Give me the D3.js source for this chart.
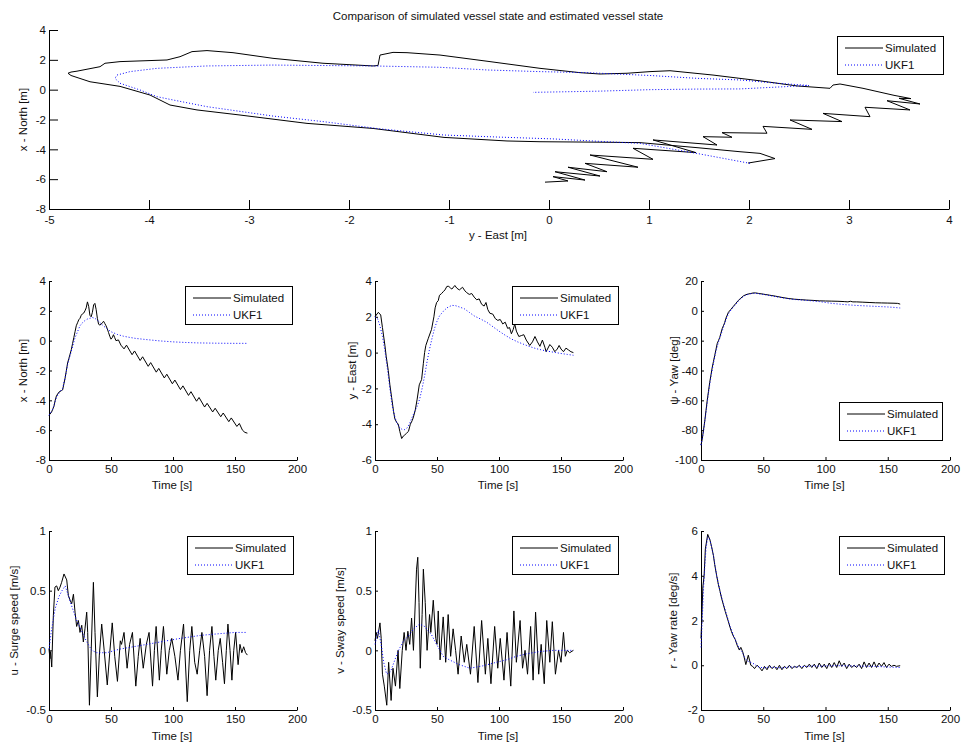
<!DOCTYPE html>
<html><head><meta charset="utf-8">
<script src="https://cdn.jsdelivr.net/npm/d3@7"></script>
<style>
body{margin:0;background:#fff}
text{font-family:"Liberation Sans",Arial,Helvetica,sans-serif;fill:#111}
</style>
</head><body>
<svg id="c" width="961" height="746"></svg>
<script>
// ---------------- DATA ----------------
const titleText = "Comparison of simulated vessel state and estimated vessel state";
const seriesNames = ["Simulated", "UKF1"];
const timeTicks = [0, 50, 100, 150, 200];

// Trajectory (East, North) – simulated
const trackSim = [
[1.99,-4.92],[2.26,-4.62],[2.11,-4.27],[1.91,-4.16],[1.5,-3.9],[0.91,-3.55],[0.5,-3.52],[-0.09,-3.49],[-0.42,-3.44],[-1.05,-3.2],[-1.76,-2.6],[-2.42,-2.26],[-3.09,-1.70],[-3.52,-1.36],[-3.79,-1.03],[-3.99,-0.36],[-4.29,0.22],[-4.59,0.53],[-4.78,0.95],[-4.81,1.10],[-4.78,1.18],[-4.72,1.24],[-4.49,1.54],[-4.44,1.77],[-4.29,1.88],[-3.82,1.99],[-3.69,2.21],[-3.57,2.55],[-3.42,2.62],[-3.16,2.48],[-2.76,2.10],[-2.26,1.77],[-1.76,1.59],[-1.71,1.62],[-1.69,2.32],[-1.56,2.50],[-1.42,2.48],[-1.09,2.32],[-0.59,1.88],[-0.09,1.43],[0.31,1.14],[0.51,1.05],[0.78,1.10],[1.01,1.21],[1.21,1.27],[1.64,0.98],[2.1,0.6],[2.48,0.25],[2.81,0.09],[2.84,0.31],[2.91,0.38],[3.14,0.09],[3.45,-0.38],[3.62,-0.6],[3.5,-0.58],[3.71,-0.96],
[3.38,-0.74],[3.61,-1.36],[3.16,-1.18],[3.21,-1.81],[2.74,-1.59],[2.93,-2.14],[2.41,-2.03],[2.63,-2.66],[2.14,-2.46],[2.18,-2.92],[1.73,-2.88],[1.83,-3.19],[1.54,-3.15],[1.68,-3.71],[1.04,-3.37],[1.47,-4.22],[0.84,-3.93],[1.04,-4.67],[0.41,-4.38],[0.89,-5.20],[0.36,-4.94],[0.58,-5.50],[0.19,-5.20],[0.51,-5.79],[0.06,-5.50],[0.36,-6.06],[0.04,-5.83],[0.19,-6.12],[-0.04,-6.2]
];
// Trajectory (East, North) – UKF1
const trackUkf = [
[2.01,-4.94],[1.5,-4.3],[0.91,-3.6],[0.58,-3.49],[0.04,-3.3],[-0.5,-3.18],[-1.05,-3.04],[-1.7,-2.62],[-2.26,-2.14],[-2.76,-1.77],[-3.42,-1.14],[-3.76,-0.69],[-3.92,-0.47],[-4.09,-0.02],[-4.29,0.43],[-4.34,0.76],[-4.32,0.98],[-4.19,1.21],[-3.92,1.43],[-3.42,1.59],[-2.76,1.65],[-2.29,1.62],[-1.76,1.59],[-1.09,1.50],[-0.62,1.32],[-0.09,1.21],[0.38,1.14],[1.01,0.95],[1.48,0.76],[1.91,0.65],[2.3,0.42],[2.54,0.31],[2.6,0.28],[2.51,0.25],[1.91,0.05],[1.48,0.04],[1.01,0.0],[0.5,-0.1],[-0.16,-0.18]
];

// x - North [m] vs time
const northSim = [
[0,-5.0],[2,-4.8],[3,-4.6],[4,-4.4],[5,-4.0],[6,-3.7],[8,-3.45],[10,-3.35],[11,-3.3],[12,-2.9],[13,-2.5],[14,-2.0],[15,-1.5],[16,-1.2],[17,-0.9],[18,-0.6],[19,-0.2],[20,0.2],[21,0.6],[22,1.0],[23,1.2],[24,1.4],[25,1.5],[26,1.7],[27,1.8],[28,1.85],[29,2.0],[30,2.2],[31,2.6],[32,2.3],[33,1.7],[34,1.6],[35,1.9],[36,2.4],[37,2.5],[38,2.1],[39,1.5],[40,1.1],[41,1.05],[42,1.1],[43,1.2],[44,1.3],[45,1.15],[46,1.0],[47,0.8],[48,0.55],[49,0.3],[50,0.1],[51,0.2],[52,0.4],[53,0.2],[54,0.0],[56,0.05],[58,-0.3],[60.5,-0.55],[62.5,-0.3],[67,-0.94],[69,-0.69],[73.5,-1.33],[75.5,-1.08],[80,-1.72],[82,-1.47],[86.5,-2.11],[88.5,-1.86],[93,-2.5],[95,-2.25],[99.5,-2.89],[101.5,-2.64],[106,-3.28],[108,-3.03],[112.5,-3.67],[114.5,-3.42],[119,-4.06],[121,-3.81],[125.5,-4.45],[127.5,-4.2],[132,-4.78],[134,-4.53],[138.5,-5.1],[140.5,-4.85],[145,-5.43],[147,-5.18],[151.5,-5.75],[153.5,-5.55],[156,-6.0],[158,-6.15],[160,-6.2]
];
const northUkf = [
[0,-5.0],[3,-4.6],[6,-3.8],[9,-3.4],[11,-3.2],[13,-2.5],[15,-1.6],[17,-1.0],[19,-0.4],[21,0.2],[23,0.6],[25,1.0],[27,1.2],[29,1.35],[31,1.45],[33,1.5],[35,1.55],[37,1.5],[40,1.3],[43,1.05],[46,0.85],[50,0.6],[55,0.42],[60,0.3],[65,0.22],[70,0.15],[80,0.06],[90,-0.02],[100,-0.08],[110,-0.12],[120,-0.15],[135,-0.17],[150,-0.18],[160,-0.18]
];

// y - East [m] vs time
const eastSim = [
[0,2.0],[1,2.1],[2.7,2.25],[4.6,2.1],[6,1.4],[8,0.4],[9,-0.2],[10.7,-1.0],[12,-1.8],[13.4,-2.5],[15,-3.3],[16,-3.7],[17.5,-3.9],[18.8,-4.0],[20,-4.4],[21.5,-4.8],[23,-4.65],[24,-4.6],[25.5,-4.5],[27,-4.4],[28.5,-4.0],[30,-3.8],[31,-3.6],[32.5,-3.2],[34,-2.6],[35.7,-1.8],[37.6,-1.5],[39,-0.6],[40,0.0],[41,0.4],[43,0.8],[45.6,1.3],[47.5,2.0],[48.5,2.5],[49.7,2.8],[51,2.9],[52,3.2],[53.7,3.3],[55,3.4],[56.4,3.5],[58,3.7],[59.5,3.7],[61,3.6],[62,3.55],[64.4,3.75],[66,3.6],[68,3.5],[70.6,3.65],[72.5,3.45],[74,3.35],[76,3.25],[78,3.3],[80,3.1],[82,2.95],[84,3.0],[86,2.7],[88,2.6],[89.5,2.8],[91,2.4],[92.6,2.2],[95,2.15],[97,1.9],[99,1.8],[101,1.85],[103,1.6],[105,1.7],[107,1.35],[108.5,1.4],[110,1.05],[111.5,1.3],[112.7,1.6],[114,1.2],[116,0.9],[118,0.95],[120,1.0],[122,0.7],[124.8,0.4],[127,0.6],[129,0.9],[131,0.6],[133,0.35],[135,0.7],[137,0.3],[138,0.05],[141,0.45],[143,0.3],[145,0.05],[147,0.2],[148.5,0.4],[150,0.2],[152,0.05],[154,0.25],[156,0.15],[158,0.05],[160,0.0]
];
const eastUkf = [
[0,2.0],[2,1.9],[4,1.5],[6,0.9],[8,0.1],[10,-0.9],[12,-2.0],[14,-3.0],[16,-3.6],[18,-4.0],[20,-4.2],[22,-4.3],[24,-4.3],[26,-4.2],[28,-3.95],[30,-3.6],[32,-3.3],[34,-3.0],[36,-2.6],[38,-2.0],[40,-1.3],[42,-0.5],[44,0.2],[46,0.8],[48,1.35],[50,1.75],[52,2.05],[55,2.3],[58,2.5],[62,2.64],[65,2.62],[68,2.55],[72,2.45],[76,2.25],[80,2.05],[85,1.88],[90,1.7],[95,1.45],[100,1.2],[105,0.97],[110,0.76],[115,0.6],[120,0.46],[125,0.33],[130,0.22],[135,0.14],[140,0.07],[145,0.01],[150,-0.05],[155,-0.1],[160,-0.15]
];

// psi - Yaw [deg] vs time
const yawSim = [
[0,-90],[1,-86],[2,-80],[3,-74],[4,-67],[5,-60],[6,-54],[7,-48],[8,-43],[9,-38],[10,-34],[11,-30],[12,-26],[13,-22],[14,-20],[15,-18],[16,-15],[17,-12],[18,-10],[19,-8],[20,-5],[21,-3],[22,-1],[24,1],[26,3],[28,5],[30,7],[32,8.5],[34,10],[36,10.8],[38,11.3],[40,11.6],[42,12],[44,12],[46,11.7],[50,11.2],[55,10.5],[60,9.8],[65,9],[70,8.3],[75,7.8],[80,7.5],[85,7.2],[90,7.0],[95,6.7],[100,6.6],[105,6.5],[110,6.4],[115,6.2],[118,6.0],[120,6.4],[122,6.0],[125,6.0],[130,5.8],[135,5.6],[140,5.4],[145,5.3],[150,5.2],[155,5.1],[158,5.0],[160,4.5]
];
const yawUkf = [
[0,-90],[2,-81],[4,-68],[6,-55],[8,-44],[10,-35],[12,-27],[14,-21],[16,-16],[18,-11],[20,-6],[22,-2],[24,0.5],[26,2.5],[28,4.5],[30,6.5],[32,8.2],[34,9.6],[36,10.5],[38,11.1],[40,11.5],[42,11.7],[45,11.6],[50,11],[55,10.3],[60,9.5],[65,8.8],[70,8.1],[75,7.6],[80,7.3],[85,7.0],[90,6.6],[95,6.2],[100,5.6],[105,5.0],[110,4.6],[115,4.2],[120,3.9],[125,3.6],[130,3.4],[135,3.2],[140,3.0],[145,2.8],[150,2.6],[155,2.3],[160,1.9]
];

// u - Surge speed [m/s] vs time
const surgeSim = [
[0,0.01],[0.8,-0.07],[1.3,-0.01],[2.2,-0.14],[3.5,0.29],[4.8,0.53],[6.2,0.54],[7.5,0.5],[8.9,0.53],[10.2,0.57],[12.1,0.64],[14.3,0.59],[15.6,0.46],[17,0.42],[18.3,0.39],[19.7,0.47],[21,0.32],[22.3,0.2],[23.7,0.25],[25,0.15],[26.4,0.21],[27.7,0.07],[29,0.18],[30.4,0.32],[31.2,0.15],[32.6,-0.46],[33.9,-0.04],[35.8,0.57],[37.1,0.15],[39,-0.39],[40.6,-0.04],[42.5,0.22],[44.5,0.0],[47,-0.29],[49,-0.02],[51,0.23],[53,-0.05],[55.2,-0.26],[57.5,0.08],[58.5,0.05],[60.5,0.15],[63,-0.15],[65,0.05],[67.3,0.15],[70,-0.3],[72,-0.05],[73.5,0.1],[76,-0.15],[78.5,0.05],[80.7,0.15],[83.5,-0.3],[85,0.0],[86.4,0.2],[89,-0.25],[90.5,0.0],[92.3,0.2],[95,-0.2],[97,0.0],[99,0.1],[101.5,-0.05],[104,-0.25],[106,0.0],[108.5,0.22],[111.5,-0.43],[113.5,0.0],[115.2,0.2],[117.5,-0.1],[119.5,-0.2],[121.5,0.0],[123.3,0.15],[125.5,-0.05],[127.5,-0.38],[129.5,0.0],[131.4,0.2],[133,-0.05],[134.5,-0.25],[136.5,0.0],[138.1,0.1],[140,-0.1],[141.5,-0.28],[143,0.0],[144.3,0.22],[146,0.0],[147.5,-0.25],[149,0.0],[150.5,0.15],[152.5,-0.12],[154,0.05],[155.5,-0.02],[157,0.03],[158.5,-0.02],[160,-0.04]
];
const surgeUkf = [
[0,0.01],[2,0.17],[5,0.35],[8,0.45],[10.5,0.5],[13,0.54],[15.6,0.46],[18,0.38],[22,0.26],[26,0.17],[30,0.08],[34.5,0.0],[38.5,-0.02],[46.6,-0.02],[57,0.01],[73.5,0.04],[89.6,0.07],[105.8,0.1],[122,0.125],[138,0.14],[150,0.15],[160,0.15]
];

// v - Sway speed [m/s] vs time
const swaySim = [
[0,0.08],[1,0.15],[2,0.1],[4,0.23],[5,0.1],[6,-0.2],[7.5,-0.3],[9.5,-0.46],[11,-0.1],[13,-0.42],[14.5,-0.15],[16.5,-0.3],[18.6,0.0],[20,-0.32],[22,0.0],[23.5,0.15],[25,0.0],[26.5,0.16],[28,0.05],[29.5,0.27],[31,0.0],[33.5,0.68],[34.5,0.78],[35.5,0.4],[36.5,-0.15],[38,0.3],[39,0.68],[40.5,0.4],[42,0.0],[44,0.3],[45,0.15],[47,0.42],[49,0.1],[50,0.05],[51,0.33],[52.5,-0.08],[55,0.28],[57,-0.1],[59,0.3],[61,-0.05],[63,0.18],[65,0.0],[67,-0.2],[69.5,0.12],[72,-0.1],[74,0.05],[77,-0.2],[80,0.2],[83,-0.27],[86,0.25],[89,-0.2],[91,0.1],[93.5,-0.28],[96.5,0.2],[99,-0.15],[101,0.1],[104,-0.25],[106.5,0.15],[109.5,-0.3],[112,0.33],[114,-0.1],[117,0.25],[119,-0.15],[121,0.0],[123,-0.2],[125.5,0.2],[127.5,-0.25],[129.5,0.32],[132,-0.2],[134,0.05],[136.5,-0.28],[138.5,0.25],[141,-0.1],[143,0.24],[145.5,-0.2],[148,0.0],[150,-0.1],[152,0.15],[153.5,-0.05],[155,0.0],[157,-0.02],[160,0.0]
];
const swayUkf = [
[0,0.05],[2.7,0.17],[5,0.05],[7,-0.1],[9.4,-0.2],[12.5,-0.18],[16,-0.08],[19,0.0],[23,0.08],[27,0.12],[31,0.18],[36,0.22],[40,0.2],[45.6,0.13],[49.7,0.05],[55,-0.05],[60,-0.08],[68,-0.12],[76.5,-0.15],[87,-0.13],[98,-0.1],[106,-0.08],[114,-0.05],[122,-0.03],[133,-0.01],[144,0.0],[160,0.0]
];

// r - Yaw rate [deg/s] vs time
const rateSim = [
[0,1.2],[0.5,1.9],[1.5,3.5],[2.5,4.0],[3.5,5.2],[5.4,5.85],[7.2,5.6],[8.5,5.3],[10,4.9],[11,4.5],[12.6,4.0],[14,3.6],[15.3,3.3],[16.5,3.0],[18,2.7],[19.5,2.4],[20.6,2.2],[22,1.95],[23.3,1.7],[24.5,1.5],[26,1.3],[27.5,1.15],[29,0.9],[30.8,0.68],[32,0.8],[33.5,0.6],[34.5,0.4],[36,0.03],[38,0.45],[40,0.0],[41.5,-0.05],[43,-0.15],[45,0.0],[47,-0.1],[49,-0.25],[51,-0.05],[53,-0.2],[55,0.0],[57,-0.15],[59,-0.05],[61,-0.2],[63,0.0],[65,-0.2],[67,-0.05],[69,-0.15],[71,0.0],[73,-0.15],[75,-0.05],[77,-0.1],[79,0.0],[81,-0.15],[83,0.0],[85,-0.1],[87,0.05],[89,-0.1],[91,0.05],[93,-0.15],[95,0.1],[97,-0.1],[99,0.05],[101,-0.15],[103,0.1],[105,-0.1],[107,0.12],[109,-0.1],[111,0.2],[113,-0.05],[115,0.1],[117,-0.15],[119,0.05],[121,-0.1],[123,0.0],[125,-0.1],[127,0.05],[129,-0.15],[131,0.15],[133,-0.1],[135,0.1],[137,-0.1],[139,0.15],[141,-0.1],[143,0.1],[145,-0.05],[147,0.12],[149,-0.1],[151,0.05],[153,-0.05],[155,0.0],[157,-0.05],[160,-0.02]
];
const rateUkf = [
[0,0.8],[1,2.0],[2,3.4],[3,4.4],[4,5.2],[5.4,5.75],[7.2,5.6],[10,4.9],[12.6,4.0],[15.3,3.3],[18,2.75],[20.6,2.25],[23.3,1.75],[26,1.35],[29,0.95],[31,0.75],[33,0.6],[35,0.35],[37,0.2],[39,0.15],[41,0.1],[43,0.05],[45,-0.05],[50,-0.12],[55,-0.08],[60,-0.1],[65,-0.12],[70,-0.08],[75,-0.08],[80,-0.06],[85,-0.05],[90,-0.03],[95,-0.04],[100,-0.03],[110,-0.02],[120,-0.03],[130,-0.04],[140,-0.05],[150,-0.08],[160,-0.1]
];

// ---------------- DRAWING ----------------
const FS = "11.5px";
const svg = d3.select("#c");

svg.append("text").attr("x", 498).attr("y", 20).attr("text-anchor", "middle")
  .style("font-size", FS).text(titleText);

function panel(p) {
  const x = d3.scaleLinear().domain(p.xd).range([p.l, p.r]);
  const y = d3.scaleLinear().domain(p.yd).range([p.b, p.t]);
  const g = svg.append("g");
  const line = d3.line().x(d => x(d[0])).y(d => y(d[1]));

  // axes
  const ax = d3.axisBottom(x).tickValues(p.xt).tickSizeInner(-p.tl).tickSizeOuter(0)
    .tickPadding(p.xp).tickFormat(d => String(d));
  const ay = d3.axisLeft(y).tickValues(p.yt).tickSizeInner(-p.tl).tickSizeOuter(0)
    .tickPadding(3).tickFormat(d => String(d));
  const gx = g.append("g").attr("transform", `translate(0,${p.b})`).call(ax);
  const gy = g.append("g").attr("transform", `translate(${p.l},0)`).call(ay);
  [gx, gy].forEach(a => {
    a.attr("font-size", null).attr("font-family", null);
    a.selectAll("text").style("font-size", FS).attr("fill", "#111");
    a.selectAll("line,path").attr("stroke", "#000");
  });

  g.append("path").datum(p.sim).attr("d", line).attr("fill", "none")
    .attr("stroke", "#000").attr("stroke-width", 1);
  g.append("path").datum(p.ukf).attr("d", line).attr("fill", "none")
    .attr("stroke", "#0000ff").attr("stroke-width", 1).attr("stroke-dasharray", "1,2");

  // axis labels
  g.append("text").attr("x", (p.l + p.r) / 2 - 1).attr("y", p.xlY)
    .attr("text-anchor", "middle").style("font-size", FS).text(p.xl);
  g.append("text").attr("transform", `translate(${p.ylX},${(p.t + p.b) / 2}) rotate(-90)`)
    .attr("dy", "0.35em").attr("text-anchor", "middle").style("font-size", FS).text(p.yl);

  // legend
  const lg = g.append("g").attr("transform", `translate(${p.lg[0]},${p.lg[1]})`);
  lg.append("rect").attr("x", 0.5).attr("y", 0.5).attr("width", p.lg[2]).attr("height", 38)
    .attr("fill", "#fff").attr("stroke", "#000").attr("stroke-width", 1);
  seriesNames.forEach((nm, i) => {
    const yy = 11.5 + i * 17;
    lg.append("line").attr("x1", 8).attr("x2", 46).attr("y1", yy + 0.5).attr("y2", yy + 0.5)
      .attr("stroke", i === 0 ? "#000" : "#0000ff").attr("stroke-width", 1)
      .attr("stroke-dasharray", i === 0 ? null : "1,2");
    lg.append("text").attr("x", 48).attr("y", yy + 4.5).style("font-size", FS).text(nm);
  });
}

const cols = [[49, 297], [375, 623], [701, 950]];
const midRow = [281, 460], botRow = [531, 710];

panel({l: 49, r: 949, t: 30, b: 209, xd: [-5, 4], yd: [-8, 4],
  xt: d3.range(-5, 5, 1), yt: d3.range(-8, 5, 2), tl: 9, xp: 7,
  sim: trackSim, ukf: trackUkf, xl: "y - East [m]", xlY: 239,
  yl: "x - North [m]", ylX: 23, lg: [837, 36, 106]});

panel({l: cols[0][0], r: cols[0][1], t: midRow[0], b: midRow[1], xd: [0, 200], yd: [-8, 4],
  xt: timeTicks, yt: d3.range(-8, 5, 2), tl: 3, xp: 5,
  sim: northSim, ukf: northUkf, xl: "Time [s]", xlY: 489,
  yl: "x - North [m]", ylX: 23, lg: [185, 286, 107]});

panel({l: cols[1][0], r: cols[1][1], t: midRow[0], b: midRow[1], xd: [0, 200], yd: [-6, 4],
  xt: timeTicks, yt: d3.range(-6, 5, 2), tl: 3, xp: 5,
  sim: eastSim, ukf: eastUkf, xl: "Time [s]", xlY: 489,
  yl: "y - East [m]", ylX: 352, lg: [512, 286, 106]});

panel({l: cols[2][0], r: cols[2][1], t: midRow[0], b: midRow[1], xd: [0, 200], yd: [-100, 20],
  xt: timeTicks, yt: d3.range(-100, 21, 20), tl: 3, xp: 5,
  sim: yawSim, ukf: yawUkf, xl: "Time [s]", xlY: 489,
  yl: "ψ -  Yaw [deg]", ylX: 674, lg: [839, 402, 103]});

panel({l: cols[0][0], r: cols[0][1], t: botRow[0], b: botRow[1], xd: [0, 200], yd: [-0.5, 1],
  xt: timeTicks, yt: [-0.5, 0, 0.5, 1], tl: 3, xp: 5,
  sim: surgeSim, ukf: surgeUkf, xl: "Time [s]", xlY: 740,
  yl: "u - Surge speed [m/s]", ylX: 14, lg: [187, 536, 106]});

panel({l: cols[1][0], r: cols[1][1], t: botRow[0], b: botRow[1], xd: [0, 200], yd: [-0.5, 1],
  xt: timeTicks, yt: [-0.5, 0, 0.5, 1], tl: 3, xp: 5,
  sim: swaySim, ukf: swayUkf, xl: "Time [s]", xlY: 740,
  yl: "v - Sway speed [m/s]", ylX: 340, lg: [512, 536, 106]});

panel({l: cols[2][0], r: cols[2][1], t: botRow[0], b: botRow[1], xd: [0, 200], yd: [-2, 6],
  xt: timeTicks, yt: d3.range(-2, 7, 2), tl: 3, xp: 5,
  sim: rateSim, ukf: rateUkf, xl: "Time [s]", xlY: 740,
  yl: "r - Yaw rate [deg/s]", ylX: 673, lg: [839, 536, 105]});
</script>
</body></html>
